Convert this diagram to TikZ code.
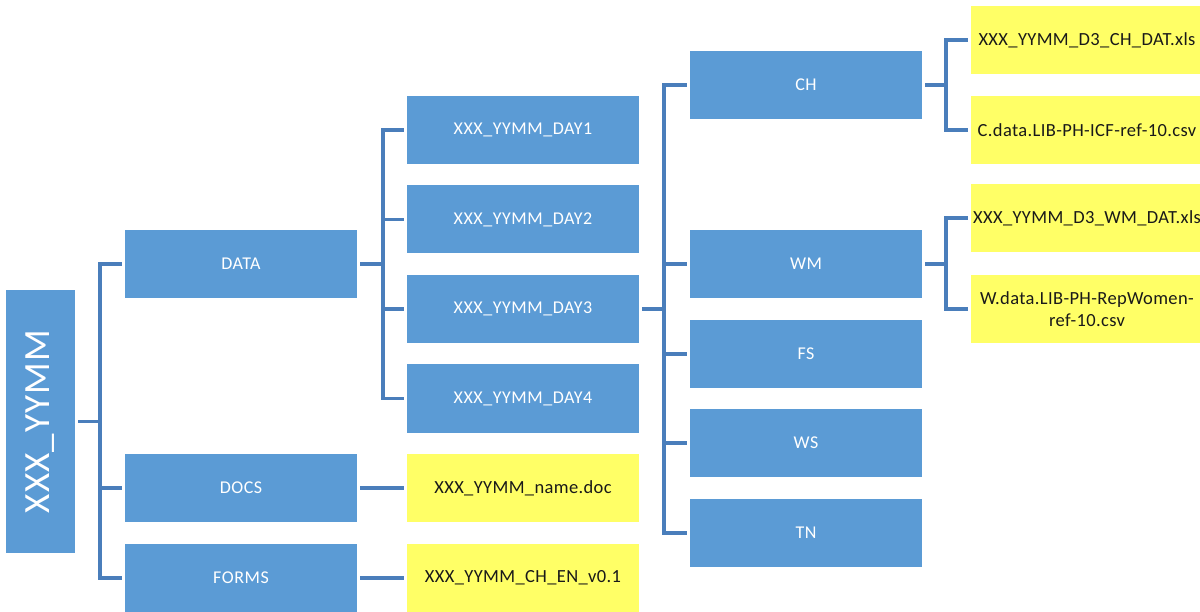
\documentclass[tikz,border=0pt]{standalone}
\usepackage{fontspec}
\setmainfont{Carlito}
\usetikzlibrary{positioning}
\definecolor{boxblue}{HTML}{5B9BD5}
\definecolor{linkblue}{HTML}{4A7EBB}
\definecolor{fileyellow}{HTML}{FFFF66}

\begin{document}
\begin{tikzpicture}
[every node/.style={minimum width=232pt,minimum height=68pt,inner sep=0pt,outer sep=0pt},
 dir/.style={fill=boxblue,text=white,font=\fontsize{18}{21}\selectfont\addfontfeatures{LetterSpace=3}},
 file/.style={fill=fileyellow,text=black!90,align=center,font=\fontsize{18.5}{22}\selectfont\addfontfeatures{LetterSpace=2}},
 conn/.style={draw=linkblue,line width=3.5pt,shorten <=3pt,shorten >=3pt}]
\path[use as bounding box,clip] (0,0) rectangle (1200pt,-612pt);
\node[dir,minimum width=69pt,minimum height=263pt] (root) at (40.5pt,-421.5pt)
  {\rotatebox{90}{\fontsize{37}{40}\selectfont XXX\_YYMM}};
\node[dir]  (data)  [on grid,above right=157.5pt and 200.5pt of root] {DATA};
\node[dir]  (docs)  [on grid,below=224pt of data]                     {DOCS};
\node[dir]  (forms) [on grid,below=90pt of docs]                      {FORMS};
\node[dir]  (day1)  [on grid,above right=134pt and 282pt of data]     {XXX\_YYMM\_DAY1};
\node[dir]  (day2)  [on grid,below=89.5pt of day1]                    {XXX\_YYMM\_DAY2};
\node[dir]  (day3)  [on grid,below=89.5pt of day2]                    {XXX\_YYMM\_DAY3};
\node[dir]  (day4)  [on grid,below=89.5pt of day3]                    {XXX\_YYMM\_DAY4};
\node[file] (docf)  [on grid,right=282pt of docs]                     {XXX\_YYMM\_name.doc};
\node[file] (formf) [on grid,right=282pt of forms]                    {XXX\_YYMM\_CH\_EN\_v0.1};
\node[dir]  (ch)    [on grid,above right=224pt and 283pt of day3]     {CH};
\node[dir]  (wm)    [on grid,below=179pt of ch]                       {WM};
\node[dir]  (fs)    [on grid,below=90pt of wm]                        {FS};
\node[dir]  (ws)    [on grid,below=89pt of fs]                        {WS};
\node[dir]  (tn)    [on grid,below=90pt of ws]                        {TN};
\node[file] (chA)   [on grid,above right=45pt and 281pt of ch]        {XXX\_YYMM\_D3\_CH\_DAT.xls};
\node[file] (chB)   [on grid,below=90pt of chA]                       {C.data.LIB-PH-ICF-ref-10.csv};
\node[file] (wmA)   [on grid,above right=46pt and 281pt of wm]        {XXX\_YYMM\_D3\_WM\_DAT.xls};
\node[file] (wmB)   [on grid,below=91pt of wmA]                       {W.data.LIB-PH-RepWomen-\\ref-10.csv};
\foreach \c in {data,docs,forms}
  \path[conn] (root.east) -- ++(25pt,0) |- (\c.west);
\foreach \c in {day1,day2,day3,day4}
  \path[conn] (data.east) -- ++(26pt,0) |- (\c.west);
\foreach \c in {ch,wm,fs,ws,tn}
  \path[conn] (day3.east) -- ++(25pt,0) |- (\c.west);
\foreach \c in {chA,chB}
  \path[conn] (ch.east) -- ++(24pt,0) |- (\c.west);
\foreach \c in {wmA,wmB}
  \path[conn] (wm.east) -- ++(24pt,0) |- (\c.west);
\path[conn] (docs.east)  -- (docf.west);
\path[conn] (forms.east) -- (formf.west);
\end{tikzpicture}
\end{document}
